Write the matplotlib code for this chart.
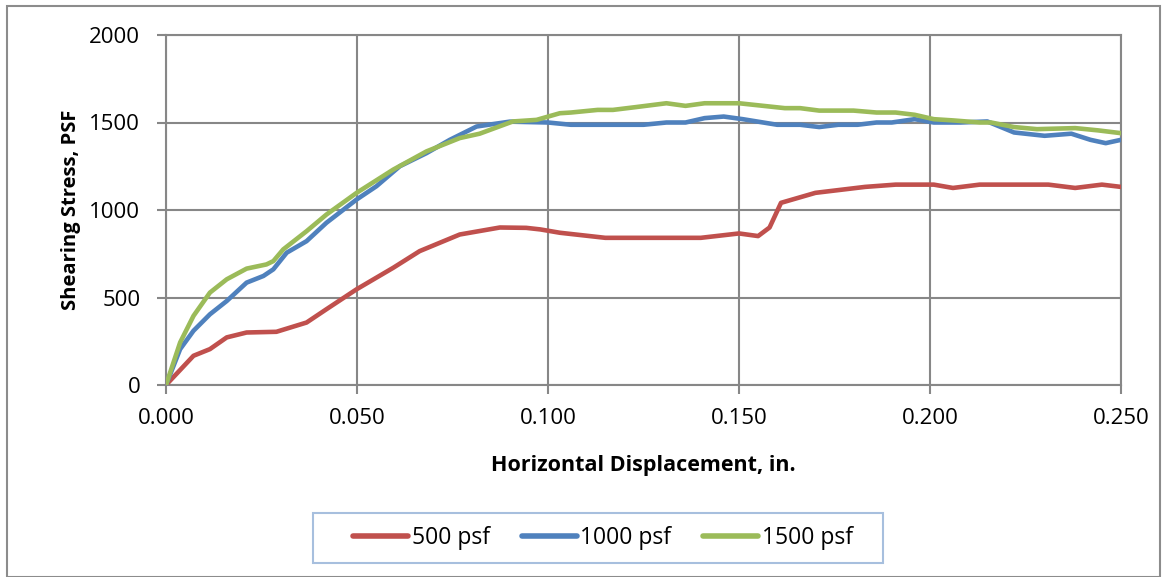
import matplotlib
matplotlib.use("Agg")
import matplotlib.pyplot as plt
from matplotlib.patches import Rectangle

# ---- data ----
x_500 = [0.0, 0.0072, 0.0115, 0.0159, 0.0211, 0.0289, 0.0368, 0.042, 0.0499, 0.0595,
         0.0664, 0.0769, 0.0874, 0.0943, 0.098, 0.1031, 0.115, 0.140, 0.150, 0.155,
         0.158, 0.161, 0.170, 0.183, 0.191, 0.201, 0.206, 0.213, 0.231, 0.238, 0.245, 0.250]
y_500 = [0, 167, 205, 272, 300, 304, 357, 433, 547, 670,
         765, 860, 900, 898, 889, 870, 841, 841, 866, 851,
         900, 1041, 1098, 1132, 1145, 1145, 1126, 1145, 1145, 1126, 1145, 1132]

x_1000 = [0.0, 0.0037, 0.0072, 0.0115, 0.0159, 0.0211, 0.0255, 0.0281, 0.0316, 0.0368,
          0.042, 0.0499, 0.0551, 0.0612, 0.0682, 0.0743, 0.0813, 0.090, 0.100, 0.106,
          0.125, 0.131, 0.136, 0.141, 0.146, 0.151, 0.160, 0.166, 0.171, 0.176, 0.181,
          0.186, 0.190, 0.196, 0.201, 0.208, 0.215, 0.222, 0.230, 0.237, 0.242, 0.246, 0.250]
y_1000 = [0, 205, 310, 404, 480, 585, 623, 661, 756, 822,
          927, 1060, 1136, 1250, 1325, 1401, 1477, 1505, 1500, 1487,
          1487, 1500, 1500, 1525, 1534, 1519, 1487, 1487, 1474, 1487, 1487,
          1500, 1500, 1519, 1500, 1500, 1506, 1443, 1424, 1436, 1401, 1382, 1401]

x_1500 = [0.0, 0.0037, 0.0072, 0.0115, 0.0159, 0.0211, 0.0263, 0.0281, 0.0307, 0.0368,
          0.042, 0.0499, 0.0595, 0.0682, 0.0769, 0.0821, 0.0908, 0.097, 0.1031, 0.106,
          0.113, 0.117, 0.123, 0.131, 0.136, 0.141, 0.150, 0.162, 0.166, 0.171, 0.180,
          0.186, 0.191, 0.196, 0.201, 0.206, 0.213, 0.216, 0.222, 0.228, 0.238, 0.244, 0.250]
y_1500 = [0, 243, 395, 528, 604, 665, 689, 708, 775, 879,
          974, 1098, 1231, 1335, 1411, 1436, 1506, 1515, 1553, 1557,
          1572, 1572, 1588, 1610, 1595, 1610, 1610, 1582, 1582, 1568, 1568,
          1557, 1557, 1544, 1519, 1512, 1500, 1500, 1474, 1462, 1468, 1455, 1439]

series_labels = ["500 psf", "1000 psf", "1500 psf"]
series_colors = ["#C0504D", "#4F81BD", "#9BBB59"]
x_ticks = [0.0, 0.05, 0.10, 0.15, 0.20, 0.25]
x_ticklabels = ["0.000", "0.050", "0.100", "0.150", "0.200", "0.250"]
y_ticks = [0, 500, 1000, 1500, 2000]

plt.rcParams['font.family'] = ['Open Sans', 'DejaVu Sans']

W, H = 1169, 577
fig = plt.figure(figsize=(W / 100, H / 100), dpi=100)
ax = fig.add_axes([166 / W, 1 - 385 / H, (1121 - 166) / W, (385 - 35) / H])

grid_c = "#878787"
for xs, ys, lab, c in zip([x_500, x_1000, x_1500], [y_500, y_1000, y_1500],
                          series_labels, series_colors):
    ax.plot(xs, ys, color=c, lw=3.3, label=lab, solid_joinstyle='round',
            solid_capstyle='round', zorder=3)

ax.set_xlim(0, 0.25)
ax.set_ylim(0, 2000)
ax.set_xticks(x_ticks)
ax.set_xticklabels(x_ticklabels)
ax.set_yticks(y_ticks)
ax.grid(True, color=grid_c, lw=1.5)
ax.set_axisbelow(True)
for s in ax.spines.values():
    s.set_color(grid_c)
    s.set_linewidth(1.5)
ax.tick_params(axis='both', colors=grid_c, length=6.5, width=1.5, labelsize=16,
               labelcolor='black')
ax.tick_params(axis='x', pad=10)
ax.tick_params(axis='y', pad=12)

ax.set_xlabel("Horizontal Displacement, in.", fontsize=15.5, fontweight='bold', labelpad=19)
ax.set_ylabel("Shearing Stress, PSF", fontsize=14.5, fontweight='bold', labelpad=6)

leg = fig.legend(loc='center', bbox_to_anchor=(603 / W, 1 - 538 / H), ncol=3,
                 frameon=False, fontsize=16.5, handlelength=2.4,
                 handletextpad=0.15, columnspacing=1.4, borderpad=0.3,
                 borderaxespad=0)
for h in leg.get_lines():
    h.set_linewidth(4.0)

# legend box
fig.patches.append(Rectangle((313 / W, 1 - 563 / H), (883 - 313) / W, 50 / H,
                             transform=fig.transFigure, fill=False,
                             edgecolor="#A7BFDE", lw=1.5))
# outer chart border
fig.patches.append(Rectangle((7 / W, 0), (1160 - 7) / W, 1 - 6 / H, transform=fig.transFigure,
                             fill=False, edgecolor="#8C8C8C", lw=1.5))

fig.savefig("out.png", dpi=100)
